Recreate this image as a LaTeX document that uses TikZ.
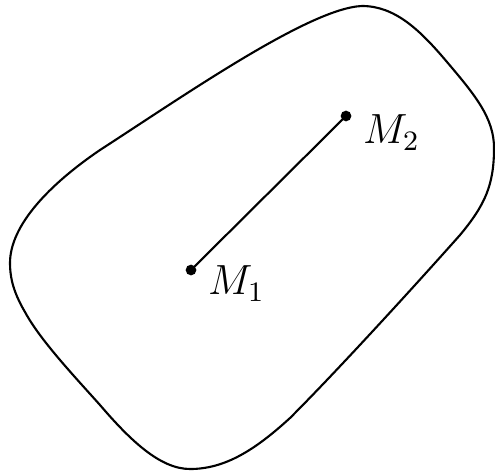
\documentclass[tikz,border=0pt]{standalone}
\usepackage{amsmath, amssymb}
\usepackage{tikz}
\usetikzlibrary{calc, positioning}

\begin{document}
\begin{tikzpicture}[x=0.01cm, y=-0.01cm, line width=0.6pt,
        pt/.style={circle, draw, fill=black, inner sep=0pt, minimum size=2.4pt},
        lbl/.style={inner sep=0pt, anchor=north west, font=\fontsize{11.5}{14}\selectfont}]
    \useasboundingbox (0,0) rectangle (495,473);
    % region boundary
    \draw (10,263) .. controls (10,225) and (50,184) .. (100,150)
        .. controls (185,95) and (310,8) .. (362,6)
        .. controls (395,6) and (420,30) .. (447,62)
        .. controls (475,95) and (494,118) .. (494,148)
        .. controls (494,185) and (485,205) .. (460,235)
        .. controls (420,280) and (340,368) .. (290,418)
        .. controls (255,450) and (225,469) .. (190,469)
        .. controls (160,469) and (130,440) .. (100,405)
        .. controls (75,377) and (40,340) .. (25,312)
        .. controls (12,290) and (10,275) .. cycle;
    % points and segment
    \node[pt] (m1) at (191,270) {};
    \node[pt] (m2) at (346,116) {};
    \draw (m1) -- (m2);
    \node[lbl] (l1) at (207,265) {$M_1$};
    \node[lbl] (l2) at (362,114) {$M_2$};
\end{tikzpicture}
\end{document}
